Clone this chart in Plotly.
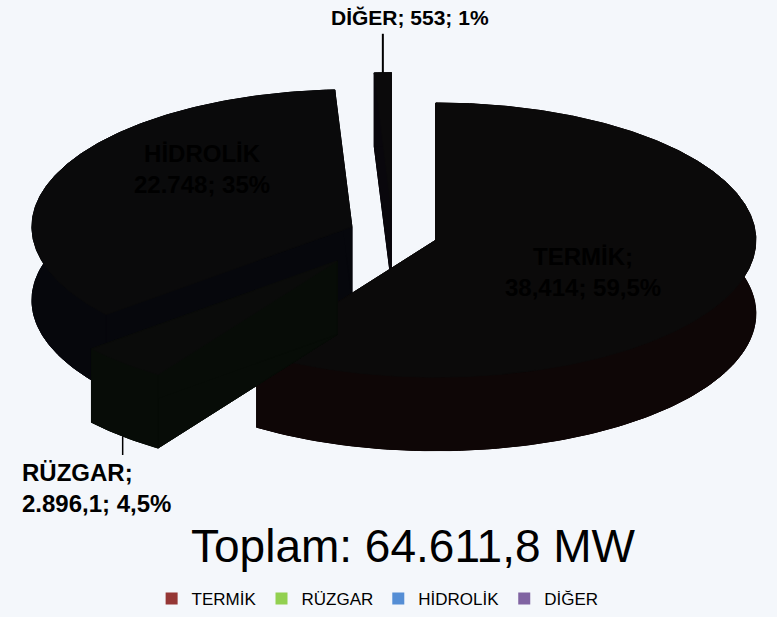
import numpy as np
import plotly.graph_objects as go

# ---- data ----
categories = ["TERMİK", "RÜZGAR", "HİDROLİK", "DİĞER"]
values = [38414, 2896.1, 22748, 553]
value_labels = ["38,414", "2.896,1", "22.748", "553"]
percent_labels = ["59,5%", "4,5%", "35%", "1%"]
total_label = "Toplam: 64.611,8 MW"

# ---- styles ----
legend_colors = ["#953735", "#92D050", "#558ED5", "#8064A2"]
top_colors = ["#0b0a0a", "#0a0b0a", "#0a0a0b", "#0b0a0b"]
wall_colors = ["#0e0606", "#070c07", "#06070c", "#09070c"]
pull = [0.14, 0.26, 0.14, 0.18]

W, H = 777, 617
CX, CY, A, B, DEPTH = 393, 236, 320, 138, 74

fracs = np.array(values, dtype=float) / float(sum(values))
ends = np.cumsum(fracs) * 360.0
starts = ends - fracs * 360.0


def pt(theta, r, ox, oy, dz=0.0):
    t = np.radians(theta)
    return ox + A * r * np.sin(t), oy - B * r * np.cos(t) + dz


fig = go.Figure()


def poly(xs, ys, color):
    fig.add_trace(go.Scatter(
        x=list(xs) + [xs[0]], y=list(ys) + [ys[0]], mode="lines", fill="toself",
        fillcolor=color, line=dict(color=color, width=1),
        hoverinfo="skip", showlegend=False))


geo = []
for i in range(len(values)):
    s, e = starts[i], ends[i]
    mid = (s + e) / 2.0
    ox = CX + pull[i] * A * np.sin(np.radians(mid))
    oy = CY - pull[i] * B * np.cos(np.radians(mid))
    geo.append((s, e, mid, ox, oy))

order = sorted(range(len(values)), key=lambda k: -np.cos(np.radians(geo[k][2])))
for i in order:
    s, e, mid, ox, oy = geo[i]
    th = np.linspace(s, e, max(4, int((e - s) * 2)))
    axp, ayp = pt(th, 1, ox, oy)
    # bottom face
    poly([ox] + list(axp), [oy + DEPTH] + list(ayp + DEPTH), wall_colors[i])
    # radial faces
    for t in (s, e):
        x1, y1 = pt(t, 1, ox, oy)
        poly([ox, x1, x1, ox], [oy, y1, y1 + DEPTH, oy + DEPTH], wall_colors[i])
    # outer wall
    poly(list(axp) + list(axp[::-1]), list(ayp) + list((ayp + DEPTH)[::-1]), wall_colors[i])
    # top face
    poly([ox] + list(axp), [oy] + list(ayp), top_colors[i])

# legend entries
for i, c in enumerate(categories):
    fig.add_trace(go.Scatter(
        x=[None], y=[None], mode="markers", name=c,
        marker=dict(symbol="square", size=12, color=legend_colors[i])))

# labels
lab_font = dict(family="Liberation Sans", size=24, color="#000000", weight="bold")
annotations = [
    dict(x=583, y=274, text=f"{categories[0]};<br>{value_labels[0]}; {percent_labels[0]}",
         font=lab_font, align="center"),
    dict(x=202, y=170, text=f"{categories[2]}<br>{value_labels[2]}; {percent_labels[2]}",
         font=lab_font, align="center"),
    dict(x=20, y=491, xanchor="left", align="left",
         text=f"{categories[1]};<br>{value_labels[1]}; {percent_labels[1]}", font=lab_font),
    dict(x=410, y=18, text=f"{categories[3]}; {value_labels[3]}; {percent_labels[3]}",
         font=dict(family="Liberation Sans", size=21, color="#000000", weight="bold")),
    dict(x=413, y=550, text=total_label,
         font=dict(family="Liberation Sans", size=46, color="#000000")),
]
for a in annotations:
    a.update(xref="x", yref="y", showarrow=False)

# leader lines
s, e, mid, ox, oy = geo[3]
dx, dy = pt(mid, 1, ox, oy)
shapes = [dict(type="line", xref="x", yref="y", x0=dx, y0=dy, x1=dx, y1=34,
               line=dict(color="#000000", width=2))]
s, e, mid, ox, oy = geo[1]
rx, ry = pt(mid, 1, ox, oy, DEPTH)
shapes.append(dict(type="line", xref="x", yref="y", x0=rx, y0=ry, x1=rx, y1=458,
                   line=dict(color="#000000", width=1.5)))

fig.update_layout(
    width=W, height=H, margin=dict(l=0, r=0, t=0, b=0),
    paper_bgcolor="#f4f7fb", plot_bgcolor="rgba(0,0,0,0)",
    xaxis=dict(range=[0, W], visible=False, fixedrange=True),
    yaxis=dict(range=[H, 0], visible=False, fixedrange=True),
    annotations=annotations, shapes=shapes,
    legend=dict(orientation="h", x=0.486, xanchor="center", y=1 - 603 / H, yanchor="middle",
                font=dict(family="Liberation Sans", size=17, color="#000000"),
                bgcolor="rgba(0,0,0,0)", itemwidth=30),
    showlegend=True,
)

fig.write_html("out.html")
